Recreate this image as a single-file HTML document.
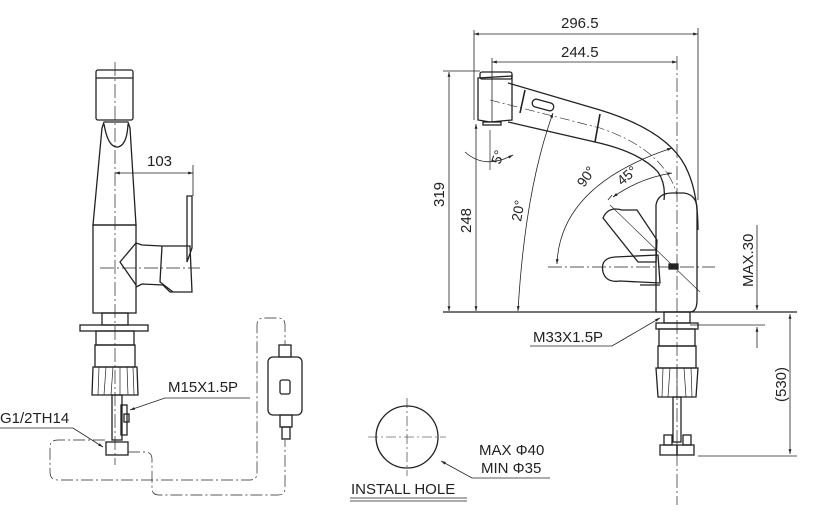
<!DOCTYPE html>
<html><head><meta charset="utf-8"><style>
html,body{margin:0;padding:0;background:#fff}
svg{display:block}
text{font-family:"Liberation Sans",sans-serif;fill:#222}
</style></head><body>
<svg width="813" height="517" viewBox="0 0 813 517" xmlns="http://www.w3.org/2000/svg">
<defs>
<marker id="a" viewBox="0 0 10 10" refX="10" refY="5" markerWidth="8" markerHeight="6" orient="auto-start-reverse"><path d="M0,2 L10,5 L0,8 z" fill="#222"/></marker>
</defs>
<g fill="none" stroke="#222" stroke-width="1.3">
<!-- LEFT VIEW -->
<line x1="115" y1="62" x2="115" y2="465" stroke-width="0.7" stroke-dasharray="14,3,2,3"/>
<rect x="96" y="70" width="37" height="50" rx="2"/>
<line x1="96" y1="78" x2="133" y2="78"/>
<path d="M104,122 L128,122 L130,128 L136,225 L93,225 L102,128 Z"/>
<path d="M104,124 Q108,148 118,147 Q127,145 128,124"/>
<rect x="93" y="225" width="43" height="88"/>
<path d="M136,243 L142,245 L162,246 L190,246 L192,292 L170,292 L163,285 L142,284 L136,287"/>
<path d="M136,243 L120,262 L136,285"/>
<path d="M162,246 L160,282 L173,292"/>
<path d="M187,196 L192,196 L192,248 L187,262 Z"/>
<line x1="100" y1="268" x2="200" y2="268" stroke-width="0.7" stroke-dasharray="14,3,2,3"/>
<line x1="193" y1="165" x2="193" y2="196" stroke-width="0.8"/>
<line x1="115" y1="173" x2="193" y2="173" stroke-width="0.8" marker-start="url(#a)" marker-end="url(#a)"/>
<rect x="80" y="325" width="68" height="6"/>
<rect x="102" y="313" width="26" height="12"/>
<rect x="96" y="331" width="38" height="14"/>
<rect x="95" y="345" width="40" height="22"/>
<path d="M93,367 L137,367 L138,395 L92,395 Z"/>
<path d="M99,367 L98,395 M106,367 L104,395 M113,367 L111,395 M120,367 L120,395 M127,367 L128,395 M133,367 L134,395" stroke-width="0.7"/>
<rect x="112" y="395" width="10" height="45"/>
<rect x="121" y="405" width="6" height="30"/>
<rect x="124" y="414" width="5" height="8"/>
<rect x="106" y="442" width="22" height="13"/>
<path d="M105,440 L58,440 Q50,440 50,447 L50,472 Q50,480 58,480 L250,480 Q257,480 257,473 L257,325 Q257,318 264,318 L278,318 Q285,318 285,325 L285,345" stroke-width="0.7" stroke-dasharray="12,3,2,3"/>
<path d="M128,452 L145,452 Q152,452 152,459 L152,488 Q152,495 159,495 L278,495 Q285,495 285,488 L285,440" stroke-width="0.7" stroke-dasharray="12,3,2,3"/>
<rect x="279" y="345" width="12" height="12"/>
<rect x="268" y="357" width="34" height="58" rx="5"/>
<rect x="280" y="380" width="10" height="14" rx="2"/>
<rect x="280" y="415" width="12" height="12"/>
<rect x="282" y="427" width="8" height="12"/>
<path d="M250,398 L165,398 L130,410" stroke-width="0.8" marker-end="url(#a)"/>
<path d="M0,428 L73,428 L103,447" stroke-width="0.8" marker-end="url(#a)"/>

<!-- RIGHT VIEW -->
<line x1="443" y1="312" x2="797" y2="312"/>
<line x1="474" y1="30" x2="474" y2="120" stroke-width="0.8"/>
<line x1="698" y1="28" x2="698" y2="200" stroke-width="0.8"/>
<line x1="492" y1="58" x2="492" y2="122" stroke-width="0.8"/>
<line x1="677" y1="56" x2="677" y2="505" stroke-width="0.7" stroke-dasharray="14,3,2,3"/>
<line x1="474" y1="34" x2="698" y2="34" stroke-width="0.8" marker-start="url(#a)" marker-end="url(#a)"/>
<line x1="492" y1="62" x2="677" y2="62" stroke-width="0.8" marker-start="url(#a)" marker-end="url(#a)"/>
<line x1="443" y1="71" x2="480" y2="71" stroke-width="0.8"/>
<line x1="449" y1="72" x2="449" y2="311" stroke-width="0.8" marker-start="url(#a)" marker-end="url(#a)"/>
<line x1="476" y1="124" x2="476" y2="311" stroke-width="0.8" marker-start="url(#a)" marker-end="url(#a)"/>
<path d="M518,311 Q525,190 553,113" stroke-width="0.8" marker-start="url(#a)" marker-end="url(#a)"/>
<path d="M465,152 Q485,170 513,155" stroke-width="0.8" marker-end="url(#a)"/>
<line x1="490" y1="130" x2="490" y2="170" stroke-width="0.7"/>
<path d="M478,78 L512,76 L512,120 L490,122 L478,120 Z"/>
<rect x="480" y="72" width="32" height="7" rx="2"/>
<rect x="483" y="122" width="18" height="3"/>
<path d="M508,83 L600,110 Q672,132 688,172 Q698,195 698,230" />
<path d="M508,122 L595,142 Q640,152 658,172 Q666,184 664,200"/>
<path d="M525,90 L520,113 M600,114 L595,142" stroke-width="1.6"/>
<rect x="532" y="101" width="22" height="8" rx="4" transform="rotate(15 543 105)"/>
<path d="M490,100 L600,128 Q665,150 677,195" stroke-width="0.6" stroke-dasharray="10,3,2,3"/>
<path d="M656,312 L656,205 Q658,193 672,193 L684,193 Q698,195 697,212 L697,300 Q697,312 690,312 Z"/>
<path d="M640,250 L656,250 M640,285 L660,285"/>
<path d="M622,210 Q608,206 603,218 L638,262 L656,262 L657,240 L637,210 Z"/>
<path d="M615,257 Q600,258 603,272 Q606,283 620,281 L660,283 L658,255 Z"/>
<rect x="669" y="264" width="9" height="5" fill="#222"/>
<line x1="548" y1="267" x2="715" y2="267" stroke-width="0.7" stroke-dasharray="14,3,2,3"/>
<line x1="610" y1="205" x2="700" y2="292" stroke-width="0.6"/>
<path d="M557,264 Q560,185 672,148" stroke-width="0.8" marker-start="url(#a)" marker-end="url(#a)"/>
<path d="M613,197 Q640,178 672,173" stroke-width="0.8" marker-start="url(#a)" marker-end="url(#a)"/>
<line x1="608" y1="200" x2="612" y2="195" stroke-width="0.8"/>
<rect x="664" y="312" width="26" height="11"/>
<rect x="656" y="323" width="42" height="6"/>
<rect x="659" y="329" width="36" height="17"/>
<rect x="658" y="346" width="38" height="22"/>
<path d="M656,368 L698,368 L696,397 L658,397 Z"/>
<path d="M663,368 L662,397 M670,368 L668,397 M677,368 L677,397 M684,368 L686,397 M691,368 L692,397" stroke-width="0.7"/>
<rect x="673" y="397" width="8" height="45"/>
<rect x="664" y="435" width="8" height="10"/>
<rect x="683" y="435" width="8" height="10"/>
<rect x="660" y="445" width="17" height="10"/>
<rect x="677" y="445" width="17" height="10"/>
<line x1="698" y1="456" x2="797" y2="456" stroke-width="0.8"/>
<line x1="690" y1="325" x2="765" y2="325" stroke-width="0.8"/>
<line x1="757" y1="225" x2="757" y2="310" stroke-width="0.8" marker-end="url(#a)"/>
<line x1="757" y1="348" x2="757" y2="327" stroke-width="0.8" marker-end="url(#a)"/>
<line x1="790" y1="314" x2="790" y2="454" stroke-width="0.8" marker-start="url(#a)" marker-end="url(#a)"/>
<path d="M530,346 L612,346 L660,318" stroke-width="0.8" marker-end="url(#a)"/>
<circle cx="407" cy="437" r="31"/>
<line x1="368" y1="437" x2="446" y2="437" stroke-width="0.6" stroke-dasharray="10,3,2,3"/>
<line x1="407" y1="398" x2="407" y2="476" stroke-width="0.6" stroke-dasharray="10,3,2,3"/>
<path d="M550,478 L472,478 L441,461" stroke-width="0.8" marker-end="url(#a)"/>
<line x1="350" y1="498" x2="467" y2="498" stroke-width="0.8"/>
<line x1="350" y1="501" x2="467" y2="501" stroke-width="0.8"/>
</g>
<g font-size="15">
<text x="147" y="166">103</text>
<text x="168" y="392">M15X1.5P</text>
<text x="0" y="423">G1/2TH14</text>
<text x="561" y="28">296.5</text>
<text x="561" y="57">244.5</text>
<text x="444" y="207" transform="rotate(-90 444 207)">319</text>
<text x="471" y="233" transform="rotate(-90 471 233)">248</text>
<text x="521" y="222" font-size="14" transform="rotate(-80 521 222)">20°</text>
<text x="500" y="165" font-size="14" transform="rotate(-70 500 165)">5°</text>
<text x="584" y="188" font-size="14" transform="rotate(-55 584 188)">90°</text>
<text x="622" y="186" font-size="14" transform="rotate(-40 622 186)">45°</text>
<text x="753" y="287" transform="rotate(-90 753 287)">MAX.30</text>
<text x="786" y="402" transform="rotate(-90 786 402)">(530)</text>
<text x="533" y="342">M33X1.5P</text>
<text x="479" y="455">MAX Φ40</text>
<text x="481" y="473">MIN Φ35</text>
<text x="351" y="494">INSTALL HOLE</text>
</g>
</svg>
</body></html>
